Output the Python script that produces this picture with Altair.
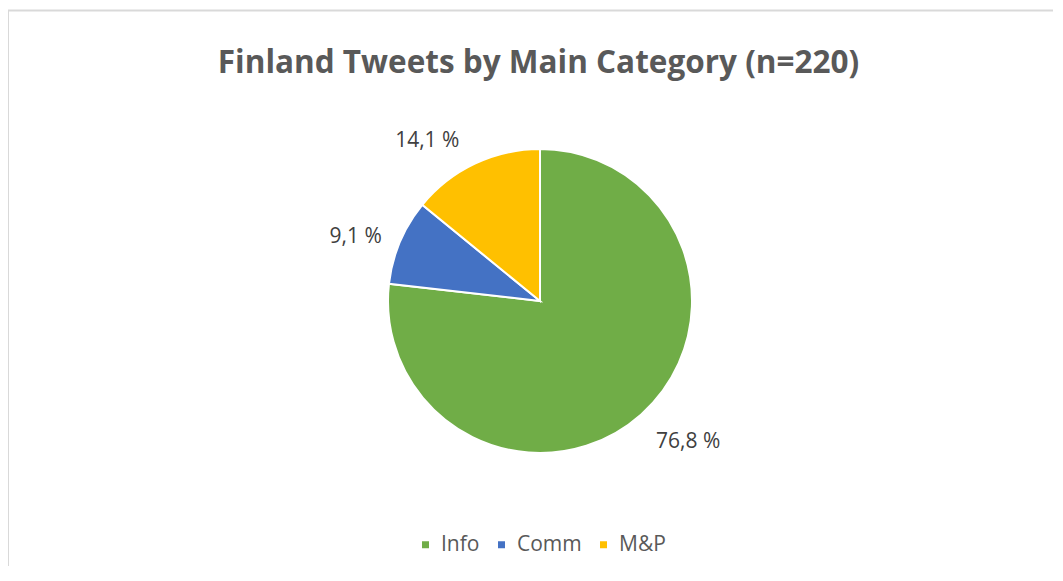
import altair as alt
import pandas as pd

categories = ["Info", "Comm", "M&P"]
shares = [76.8, 9.1, 14.1]
labels = ["76,8 %", "9,1 %", "14,1 %"]
colors = ["#70AD47", "#4472C4", "#FFC000"]

df = pd.DataFrame({
    "category": categories,
    "share": shares,
    "label": labels,
    "idx": list(range(len(categories))),
})

W, H = 1045, 558
CX, CY = 532, 293
FONT = "Open Sans"

base = alt.Chart(df).encode(
    theta=alt.Theta("share:Q", stack=True),
    order=alt.Order("idx:Q"),
)

arcs = base.mark_arc(outerRadius=152, stroke="white", strokeWidth=2).encode(
    x=alt.value(CX),
    y=alt.value(CY),
    color=alt.Color(
        "category:N",
        scale=alt.Scale(domain=categories, range=colors),
        legend=alt.Legend(
            title=None,
            orient="none",
            legendX=407,
            legendY=526,
            direction="horizontal",
            symbolType="square",
            symbolSize=49,
            symbolStrokeWidth=0,
            labelFont=FONT,
            labelFontSize=21,
            labelColor="#595959",
            labelOffset=5,
            columnPadding=11,
        ),
    ),
)

# label nudges (Excel best-fit placement) per category
nudges = {"Info": (15, -8), "Comm": (0, 14), "M&P": (-27, 21)}
text_layers = []
for cat in categories:
    ndx, ndy = nudges[cat]
    text_layers.append(
        base.mark_text(radius=200, font=FONT, fontSize=21, color="#404040", dx=ndx, dy=ndy)
        .encode(x=alt.value(CX), y=alt.value(CY), text="label:N",
                opacity=alt.condition(alt.datum.category == cat, alt.value(1), alt.value(0)))
    )

frame_df = pd.DataFrame({"a": [0]})
top_rule = alt.Chart(frame_df).mark_rule(color="#d9d9d9", strokeWidth=2).encode(
    x=alt.value(0), x2=alt.value(W), y=alt.value(2.5)
)
left_rule = alt.Chart(frame_df).mark_rule(color="#d9d9d9", strokeWidth=2).encode(
    x=alt.value(0), y=alt.value(2), y2=alt.value(H)
)

chart = alt.layer(top_rule, left_rule, arcs, *text_layers).properties(
    width=W,
    height=H,
    autosize=alt.AutoSizeParams(type="none"),
    padding=0,
    title=alt.Title(
        "Finland Tweets by Main Category (n=220)",
        font=FONT,
        fontSize=31.5,
        fontWeight="bold",
        color="#595959",
        anchor="middle",
        frame="group",
        baseline="alphabetic",
        offset=-96,
        dx=8,
    ),
).configure_view(stroke=None)

chart.save("out.html", embed_options={"renderer": "svg", "actions": False})
